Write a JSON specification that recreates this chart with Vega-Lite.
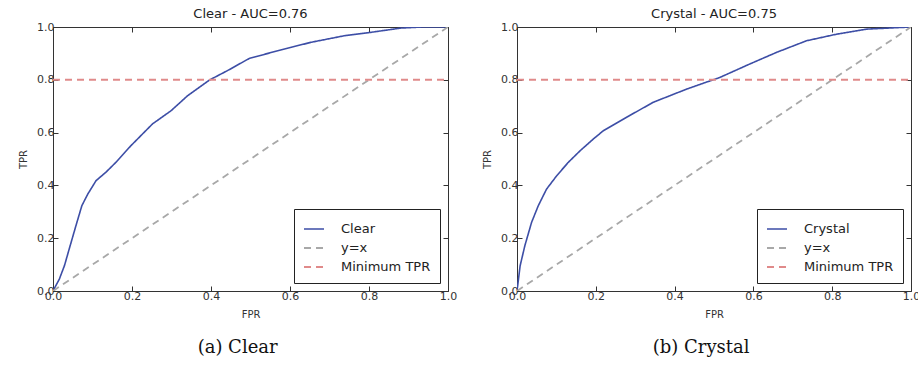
{
  "$schema": "https://vega.github.io/schema/vega-lite/v6.json",
  "background": "white",
  "padding": {"left": 18, "top": 7, "right": 4, "bottom": 2},
  "spacing": 24,
  "datasets": {
    "clear": [
      {"fpr": 0, "tpr": 0, "series": "Clear"},
      {"fpr": 0.016, "tpr": 0.045, "series": "Clear"},
      {"fpr": 0.029, "tpr": 0.096, "series": "Clear"},
      {"fpr": 0.041, "tpr": 0.159, "series": "Clear"},
      {"fpr": 0.058, "tpr": 0.247, "series": "Clear"},
      {"fpr": 0.073, "tpr": 0.323, "series": "Clear"},
      {"fpr": 0.088, "tpr": 0.367, "series": "Clear"},
      {"fpr": 0.109, "tpr": 0.418, "series": "Clear"},
      {"fpr": 0.134, "tpr": 0.45, "series": "Clear"},
      {"fpr": 0.159, "tpr": 0.487, "series": "Clear"},
      {"fpr": 0.197, "tpr": 0.55, "series": "Clear"},
      {"fpr": 0.252, "tpr": 0.633, "series": "Clear"},
      {"fpr": 0.299, "tpr": 0.683, "series": "Clear"},
      {"fpr": 0.341, "tpr": 0.74, "series": "Clear"},
      {"fpr": 0.396, "tpr": 0.799, "series": "Clear"},
      {"fpr": 0.442, "tpr": 0.835, "series": "Clear"},
      {"fpr": 0.497, "tpr": 0.881, "series": "Clear"},
      {"fpr": 0.569, "tpr": 0.91, "series": "Clear"},
      {"fpr": 0.653, "tpr": 0.942, "series": "Clear"},
      {"fpr": 0.738, "tpr": 0.967, "series": "Clear"},
      {"fpr": 0.801, "tpr": 0.979, "series": "Clear"},
      {"fpr": 0.881, "tpr": 0.996, "series": "Clear"},
      {"fpr": 0.935, "tpr": 1.0, "series": "Clear"},
      {"fpr": 1.0, "tpr": 1.0, "series": "Clear"},
      {"fpr": 0, "tpr": 0, "series": "y=x"},
      {"fpr": 1, "tpr": 1, "series": "y=x"},
      {"fpr": 0, "tpr": 0.8, "series": "Minimum TPR"},
      {"fpr": 1, "tpr": 0.8, "series": "Minimum TPR"}
    ],
    "crystal": [
      {"fpr": 0, "tpr": 0, "series": "Crystal"},
      {"fpr": 0.008, "tpr": 0.096, "series": "Crystal"},
      {"fpr": 0.02, "tpr": 0.172, "series": "Crystal"},
      {"fpr": 0.037, "tpr": 0.26, "series": "Crystal"},
      {"fpr": 0.054, "tpr": 0.323, "series": "Crystal"},
      {"fpr": 0.075, "tpr": 0.386, "series": "Crystal"},
      {"fpr": 0.101, "tpr": 0.437, "series": "Crystal"},
      {"fpr": 0.13, "tpr": 0.487, "series": "Crystal"},
      {"fpr": 0.16, "tpr": 0.531, "series": "Crystal"},
      {"fpr": 0.194, "tpr": 0.576, "series": "Crystal"},
      {"fpr": 0.219, "tpr": 0.607, "series": "Crystal"},
      {"fpr": 0.278, "tpr": 0.658, "series": "Crystal"},
      {"fpr": 0.346, "tpr": 0.715, "series": "Crystal"},
      {"fpr": 0.431, "tpr": 0.765, "series": "Crystal"},
      {"fpr": 0.515, "tpr": 0.809, "series": "Crystal"},
      {"fpr": 0.591, "tpr": 0.86, "series": "Crystal"},
      {"fpr": 0.659, "tpr": 0.904, "series": "Crystal"},
      {"fpr": 0.735, "tpr": 0.948, "series": "Crystal"},
      {"fpr": 0.812, "tpr": 0.973, "series": "Crystal"},
      {"fpr": 0.888, "tpr": 0.992, "series": "Crystal"},
      {"fpr": 1.0, "tpr": 1.0, "series": "Crystal"},
      {"fpr": 0, "tpr": 0, "series": "y=x"},
      {"fpr": 1, "tpr": 1, "series": "y=x"},
      {"fpr": 0, "tpr": 0.8, "series": "Minimum TPR"},
      {"fpr": 1, "tpr": 0.8, "series": "Minimum TPR"}
    ]
  },
  "hconcat": [
    {
      "title": {"text": "(a) Clear", "orient": "bottom", "frame": "bounds", "anchor": "middle", "font": "DejaVu Serif", "fontSize": 18, "fontWeight": "normal", "color": "#111", "offset": 19},
      "resolve": {"scale": {"color": "independent", "strokeDash": "independent", "strokeWidth": "independent"}, "legend": {"color": "independent", "strokeDash": "independent", "strokeWidth": "independent"}},
      "vconcat": [
        {
          "title": {"text": "Clear - AUC=0.76", "frame": "group", "anchor": "middle", "font": "DejaVu Sans", "fontSize": 13, "fontWeight": "normal", "color": "#222", "offset": 0},
          "width": 395,
          "height": 264,
          "data": {"name": "clear"},
          "layer": [
            {
              "mark": {"type": "line", "clip": true},
              "encoding": {
                "x": {"field": "fpr", "type": "quantitative", "scale": {"domain": [0, 1], "nice": false}, "axis": {"title": "FPR", "orient": "bottom", "values": [0, 0.2, 0.4, 0.6, 0.8, 1.0], "format": ".1f"}},
                "y": {"field": "tpr", "type": "quantitative", "scale": {"domain": [0, 1], "nice": false}, "axis": {"title": "TPR", "orient": "left", "values": [0, 0.2, 0.4, 0.6, 0.8, 1.0], "format": ".1f"}},
                "detail": {"field": "series"},
                "color": {"field": "series", "type": "nominal", "scale": {"domain": ["Clear", "y=x", "Minimum TPR"], "range": ["#3d4ea6", "#a8a8a8", "#e08a8a"]}, "legend": {"title": null, "orient": "bottom-right"}},
                "strokeDash": {"field": "series", "type": "nominal", "scale": {"domain": ["Clear", "y=x", "Minimum TPR"], "range": [[1, 0], [7, 5], [7, 5]]}, "legend": {"title": null, "orient": "bottom-right"}},
                "strokeWidth": {"field": "series", "type": "nominal", "scale": {"domain": ["Clear", "y=x", "Minimum TPR"], "range": [1.6, 2, 1.1]}, "legend": {"title": null, "orient": "bottom-right"}}
              }
            },
            {
              "mark": {"type": "point", "opacity": 0},
              "encoding": {
                "x": {"field": "fpr", "type": "quantitative", "axis": {"title": null, "orient": "top", "labels": false, "values": [0, 0.2, 0.4, 0.6, 0.8, 1.0]}},
                "y": {"field": "tpr", "type": "quantitative", "axis": {"title": null, "orient": "right", "labels": false, "values": [0, 0.2, 0.4, 0.6, 0.8, 1.0]}}
              }
            }
          ],
          "resolve": {"axis": {"x": "independent", "y": "independent"}}
        }
      ]
    },
    {
      "title": {"text": "(b) Crystal", "orient": "bottom", "frame": "bounds", "anchor": "middle", "font": "DejaVu Serif", "fontSize": 18, "fontWeight": "normal", "color": "#111", "offset": 19},
      "resolve": {"scale": {"color": "independent", "strokeDash": "independent", "strokeWidth": "independent"}, "legend": {"color": "independent", "strokeDash": "independent", "strokeWidth": "independent"}},
      "vconcat": [
        {
          "title": {"text": "Crystal - AUC=0.75", "frame": "group", "anchor": "middle", "font": "DejaVu Sans", "fontSize": 13, "fontWeight": "normal", "color": "#222", "offset": 0},
          "width": 394,
          "height": 264,
          "data": {"name": "crystal"},
          "layer": [
            {
              "mark": {"type": "line", "clip": true},
              "encoding": {
                "x": {"field": "fpr", "type": "quantitative", "scale": {"domain": [0, 1], "nice": false}, "axis": {"title": "FPR", "orient": "bottom", "values": [0, 0.2, 0.4, 0.6, 0.8, 1.0], "format": ".1f"}},
                "y": {"field": "tpr", "type": "quantitative", "scale": {"domain": [0, 1], "nice": false}, "axis": {"title": "TPR", "orient": "left", "values": [0, 0.2, 0.4, 0.6, 0.8, 1.0], "format": ".1f"}},
                "detail": {"field": "series"},
                "color": {"field": "series", "type": "nominal", "scale": {"domain": ["Crystal", "y=x", "Minimum TPR"], "range": ["#3d4ea6", "#a8a8a8", "#e08a8a"]}, "legend": {"title": null, "orient": "bottom-right"}},
                "strokeDash": {"field": "series", "type": "nominal", "scale": {"domain": ["Crystal", "y=x", "Minimum TPR"], "range": [[1, 0], [7, 5], [7, 5]]}, "legend": {"title": null, "orient": "bottom-right"}},
                "strokeWidth": {"field": "series", "type": "nominal", "scale": {"domain": ["Crystal", "y=x", "Minimum TPR"], "range": [1.6, 2, 1.1]}, "legend": {"title": null, "orient": "bottom-right"}}
              }
            },
            {
              "mark": {"type": "point", "opacity": 0},
              "encoding": {
                "x": {"field": "fpr", "type": "quantitative", "axis": {"title": null, "orient": "top", "labels": false, "values": [0, 0.2, 0.4, 0.6, 0.8, 1.0]}},
                "y": {"field": "tpr", "type": "quantitative", "axis": {"title": null, "orient": "right", "labels": false, "values": [0, 0.2, 0.4, 0.6, 0.8, 1.0]}}
              }
            }
          ],
          "resolve": {"axis": {"x": "independent", "y": "independent"}}
        }
      ]
    }
  ],
  "resolve": {"scale": {"color": "independent", "strokeDash": "independent", "strokeWidth": "independent"}, "legend": {"color": "independent", "strokeDash": "independent", "strokeWidth": "independent"}},
  "config": {
    "view": {"stroke": "#333", "strokeWidth": 1},
    "axis": {
      "grid": false,
      "domain": false,
      "tickSize": -5,
      "tickColor": "#333",
      "tickWidth": 1,
      "labelFont": "DejaVu Sans",
      "labelFontSize": 11,
      "labelColor": "#333",
      "labelPadding": 4,
      "labelFlush": false,
      "titleFont": "DejaVu Sans",
      "titleFontSize": 10,
      "titleFontWeight": "normal",
      "titleColor": "#333",
      "titlePadding": 8
    },
    "legend": {
      "orient": "bottom-right",
      "offset": 8,
      "strokeColor": "#222",
      "fillColor": "white",
      "padding": 9,
      "symbolType": "stroke",
      "symbolSize": 400,
      "labelFont": "DejaVu Sans",
      "labelFontSize": 13,
      "labelColor": "#222",
      "rowPadding": 1,
      "labelOffset": 16
    }
  }
}
